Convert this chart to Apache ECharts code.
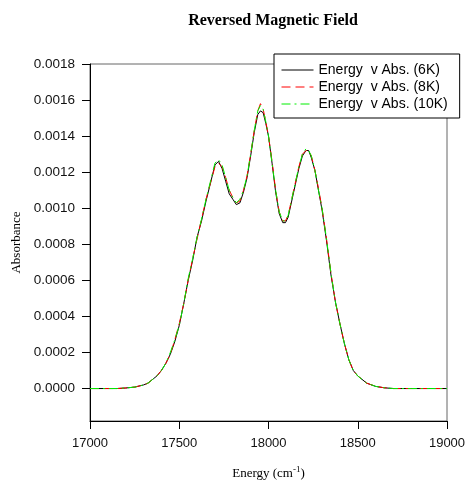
<!DOCTYPE html>
<html>
<head>
<meta charset="utf-8">
<script src="https://cdn.jsdelivr.net/npm/echarts@6/dist/echarts.min.js"></script>
<style>
  html, body { margin: 0; padding: 0; background: #fff; }
  #chart { width: 469px; height: 480px; }
</style>
</head>
<body>
<div id="chart"></div>
<script>
// energy grid (cm-1)
const energy = [17000, 17050, 17100, 17150, 17200, 17250, 17300, 17325, 17350, 17375,
  17400, 17425, 17450, 17475, 17500, 17525, 17550, 17575, 17600, 17625,
  17650, 17675, 17700, 17720, 17740, 17760, 17780, 17800, 17820, 17840,
  17860, 17880, 17900, 17920, 17940, 17955, 17970, 17985, 18000, 18020,
  18040, 18060, 18080, 18095, 18110, 18130, 18150, 18170, 18190, 18210,
  18225, 18240, 18260, 18280, 18300, 18325, 18350, 18375, 18400, 18425,
  18450, 18475, 18500, 18550, 18600, 18650, 18700, 18800, 18900, 19000];

const abs6K = [0, 0, 0, 0, 0.000003, 0.000008, 0.00002, 0.00003, 0.00005, 0.00007,
  0.00010, 0.00014, 0.00019, 0.00026, 0.00035, 0.00047, 0.00060, 0.00071, 0.00084, 0.00093,
  0.00104, 0.00114, 0.00124, 0.00126, 0.00122, 0.00115, 0.00108, 0.00105, 0.00102, 0.00103,
  0.00109, 0.00117, 0.00129, 0.00142, 0.00152, 0.00154, 0.00153, 0.00147, 0.00140, 0.00125,
  0.00109, 0.00097, 0.00092, 0.00092, 0.00095, 0.00104, 0.00113, 0.00122, 0.00129, 0.00132,
  0.00132, 0.00128, 0.00121, 0.00110, 0.00099, 0.00082, 0.00063, 0.00048, 0.00036, 0.00025,
  0.00016, 0.00010, 0.00007, 0.00003, 0.000012, 0.000004, 0, 0, 0, 0];

const abs8K = [0, 0, 0, 0, 0.000003, 0.000008, 0.00002, 0.00003, 0.00005, 0.00007,
  0.00010, 0.00014, 0.00019, 0.00027, 0.00036, 0.00047, 0.00060, 0.00072, 0.00083, 0.00094,
  0.00105, 0.00114, 0.00123, 0.00125, 0.00123, 0.00117, 0.00110, 0.00106, 0.00103, 0.00104,
  0.00110, 0.00118, 0.00130, 0.00143, 0.00154, 0.00158, 0.00155, 0.00148, 0.00140, 0.00126,
  0.00110, 0.00098, 0.00093, 0.00093, 0.00096, 0.00105, 0.00114, 0.00123, 0.00130, 0.00132,
  0.00132, 0.00129, 0.00121, 0.00111, 0.00100, 0.00083, 0.00064, 0.00048, 0.00036, 0.00025,
  0.00016, 0.00010, 0.00007, 0.00003, 0.000012, 0.000004, 0, 0, 0, 0];

const abs10K = [0, 0, 0, 0, 0.000003, 0.000008, 0.00002, 0.00003, 0.00005, 0.00007,
  0.00010, 0.00014, 0.00020, 0.00027, 0.00035, 0.00047, 0.00061, 0.00072, 0.00084, 0.00094,
  0.00105, 0.00115, 0.00125, 0.00127, 0.00124, 0.00117, 0.00110, 0.00106, 0.00103, 0.00105,
  0.00110, 0.00118, 0.00130, 0.00143, 0.00154, 0.00157, 0.00155, 0.00148, 0.00140, 0.00125,
  0.00110, 0.00098, 0.00093, 0.00093, 0.00096, 0.00105, 0.00114, 0.00123, 0.00130, 0.00133,
  0.00132, 0.00129, 0.00121, 0.00110, 0.00100, 0.00083, 0.00064, 0.00048, 0.00036, 0.00025,
  0.00016, 0.00010, 0.00007, 0.00003, 0.000012, 0.000004, 0, 0, 0, 0];

const yTicks = [0, 0.0002, 0.0004, 0.0006, 0.0008, 0.0010, 0.0012, 0.0014, 0.0016, 0.0018];
const seriesNames = ["Energy  v Abs. (6K)", "Energy  v Abs. (8K)", "Energy  v Abs. (10K)"];

function pairs(ys) {
  return energy.map((e, i) => [e, ys[i]]);
}

const chart = echarts.init(document.getElementById("chart"));

chart.setOption({
  animation: false,
  backgroundColor: "#fff",
  title: {
    text: "Reversed Magnetic Field",
    left: 268,
    textAlign: "center",
    top: 8,
    textStyle: { fontFamily: "Liberation Serif", fontSize: 16, fontWeight: "bold", color: "#000" },
  },
  legend: {
    orient: "vertical",
    left: 274,
    top: 54,
    padding: [9, 12, 7, 7],
    itemGap: 3,
    itemWidth: 32,
    itemHeight: 14,
    backgroundColor: "#fff",
    borderColor: "#000",
    borderWidth: 1,
    borderRadius: 0,
    itemStyle: { opacity: 0 },
    lineStyle: { width: 1 },
    textStyle: { fontFamily: "Liberation Sans", fontSize: 14, color: "#000" },
    data: seriesNames,
  },
  grid: {
    left: 90, right: 22, top: 64, bottom: 59,
    outerBoundsMode: "none",
    containLabel: false,
    show: true, borderColor: "#666", borderWidth: 1, backgroundColor: "transparent",
  },
  xAxis: {
    type: "value",
    min: 17000, max: 19000, interval: 500,
    name: "{a|Energy (cm}{s|-1}{a|)}",
    nameLocation: "middle",
    nameGap: 44,
    nameTextStyle: {
      rich: {
        a: { fontFamily: "Liberation Serif", fontSize: 13, color: "#000" },
        s: { fontFamily: "Liberation Serif", fontSize: 9, color: "#000", verticalAlign: "top", padding: [0, 0, 8, 0] },
      },
    },
    axisLine: { onZero: false, lineStyle: { color: "#000", width: 1 } },
    axisTick: { length: 8, lineStyle: { color: "#000" } },
    axisLabel: {
      margin: 16, fontFamily: "Liberation Sans", fontSize: 13, color: "#111",
      formatter: (v) => String(v),
    },
    splitLine: { show: false },
  },
  yAxis: {
    type: "value",
    min: -0.00018, max: 0.0018,
    name: "Absorbance",
    nameLocation: "middle",
    nameGap: 66,
    nameTextStyle: { fontFamily: "Liberation Serif", fontSize: 13, color: "#000" },
    axisLine: { onZero: false, lineStyle: { color: "#000", width: 1 } },
    axisTick: { length: 8, customValues: yTicks, lineStyle: { color: "#000" } },
    axisLabel: {
      margin: 15, customValues: yTicks,
      fontFamily: "Liberation Sans", fontSize: 13.5, color: "#111",
      formatter: (v) => v.toFixed(4),
    },
    splitLine: { show: false },
  },
  series: [
    { name: seriesNames[0], type: "line", data: pairs(abs6K), showSymbol: false, symbol: "none",
      lineStyle: { color: "#000", width: 1 }, itemStyle: { color: "#000" } },
    { name: seriesNames[1], type: "line", data: pairs(abs8K), showSymbol: false, symbol: "none",
      lineStyle: { color: "#ff0000", width: 1, type: [9, 5] }, itemStyle: { color: "#ff0000" } },
    { name: seriesNames[2], type: "line", data: pairs(abs10K), showSymbol: false, symbol: "none",
      lineStyle: { color: "#00ee00", width: 1, type: [9, 4, 2, 4] }, itemStyle: { color: "#00ee00" } },
  ],
});
</script>
</body>
</html>
